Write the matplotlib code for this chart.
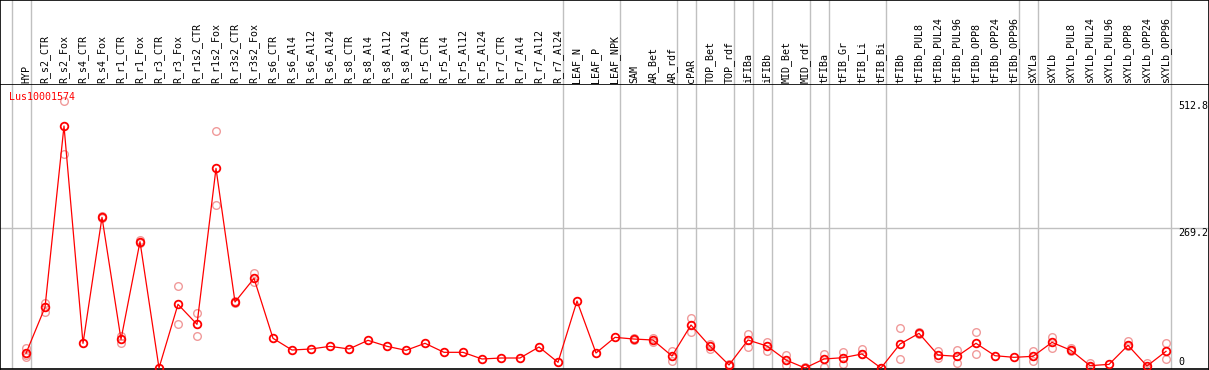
import numpy as np
import matplotlib
matplotlib.use("Agg")
import matplotlib.pyplot as plt
import matplotlib.transforms as mtransforms

gene = "Lus10001574"

samples = ["HYP", "R_s2_CTR", "R_s2_Fox", "R_s4_CTR", "R_s4_Fox", "R_r1_CTR",
           "R_r1_Fox", "R_r3_CTR", "R_r3_Fox", "R_r1s2_CTR", "R_r1s2_Fox",
           "R_r3s2_CTR", "R_r3s2_Fox", "R_s6_CTR", "R_s6_Al4", "R_s6_Al12",
           "R_s6_Al24", "R_s8_CTR", "R_s8_Al4", "R_s8_Al12", "R_s8_Al24",
           "R_r5_CTR", "R_r5_Al4", "R_r5_Al12", "R_r5_Al24", "R_r7_CTR",
           "R_r7_Al4", "R_r7_Al12", "R_r7_Al24", "LEAF_N", "LEAF_P", "LEAF_NPK",
           "SAM", "AR_Bet", "AR_rdf", "cPAR", "TOP_Bet", "TOP_rdf", "iFIBa",
           "iFIBb", "MID_Bet", "MID_rdf", "tFIBa", "tFIB_Gr", "tFIB_Li",
           "tFIB_Bi", "tFIBb", "tFIBb_PUL8", "tFIBb_PUL24", "tFIBb_PUL96",
           "tFIBb_OPP8", "tFIBb_OPP24", "tFIBb_OPP96", "sXYLa", "sXYLb",
           "sXYLb_PUL8", "sXYLb_PUL24", "sXYLb_PUL96", "sXYLb_OPP8",
           "sXYLb_OPP24", "sXYLb_OPP96"]

means = [28.2, 116.4, 464.3, 47.3, 289.1, 55.0, 242.4, 0, 122.2, 83.8, 383.0,
         126.6, 172.0, 57.0, 34.5, 36.5, 41.6, 36.5, 53.1, 41.6, 33.9, 47.4,
         30.1, 30.1, 17.3, 19.2, 19.2, 40.3, 10.9, 128.5, 28.8, 58.8, 55.6,
         53.7, 23.0, 82.5, 41.6, 5.8, 53.7, 42.2, 15.3, 0, 17.3, 19.8, 26.9, 0,
         46.0, 66.5, 24.9, 22.4, 47.4, 23.6, 20.5, 22.4, 49.2, 33.9, 4.5, 7.0,
         43.5, 3.8, 32.0]

replicates = [[37.8, 21.7, 25], [125.3, 108], [512.8, 410], [], [291, 287],
              [61.4, 48.6], [245, 240], [], [158, 83.8], [105, 62], [454, 312],
              [128.6, 123.8], [181.7, 164.4], [], [], [], [], [], [], [], [],
              [], [], [], [], [], [], [], [], [], [], [],
              [57.5, 53.5], [58.2, 49.2], [32.6, 12.8], [95.3, 68.5],
              [46, 35.8], [7.5, 3.5], [65.2, 40.9], [50.5, 32.6], [24.3, 5.8],
              [1, 0], [26.9, 2.6], [30.1, 7.0], [35.8, 26.9], [0, 0],
              [76, 17.3], [68.5, 64.5], [33.3, 18.6], [34.5, 10.2],
              [68.5, 26.3], [], [], [33.3, 14.0], [58.8, 37.8], [37.8, 32],
              [10.2, 1], [], [51.8, 42], [10.2, 0], [47.4, 17.8]]

# last sample of each group (a separator is drawn after it), -1 = left edge
group_ends = [-1, 0, 28, 31, 34, 35, 37, 38, 39, 41, 42, 45, 52, 53, 60]

ymax = 512.8
ymid = 269.2

W, H = 1209, 370
font = "DejaVu Sans Mono"

fig = plt.figure(figsize=(W / 100, H / 100), dpi=100)
xlim = (-26 / 19, (W - 26) / 19)

# header with sample names
hdr = fig.add_axes([0, 285 / H, 1, 85 / H])
hdr.set_xlim(*xlim)
hdr.set_ylim(0, 1)
hdr.set_xticks([])
hdr.set_yticks([])
for s in hdr.spines.values():
    s.set_linewidth(1.2)
    s.set_color("black")
trans = mtransforms.blended_transform_factory(hdr.transData, hdr.transAxes)
for i, name in enumerate(samples):
    hdr.text(i, 2 / 85, name, rotation=90, ha="center", va="bottom",
             fontsize=7.2, family=font, transform=trans)

# plot area
ax = fig.add_axes([0, 1 / H, 1, 284 / H])
ax.set_xlim(*xlim)
ax.set_ylim(-1.9, 543)
ax.set_xticks([])
ax.set_yticks([])
for s in ax.spines.values():
    s.set_linewidth(1.2)
    s.set_color("black")
ax.spines["top"].set_visible(False)

for g in group_ends:
    ax.axvline(g + 0.25, color="#c0c0c0", lw=1.0, zorder=0)
    hdr.axvline(g + 0.25, color="#c0c0c0", lw=1.0, zorder=0)
ax.axhline(ymid, color="#c0c0c0", lw=1.0, zorder=0)

x = np.arange(len(samples))
for i, reps in enumerate(replicates):
    if reps:
        ax.plot([i] * len(reps), reps, "o", ms=5.5, mfc="none", mec="#f09a9a",
                mew=1.0, zorder=2)
ax.plot(x, means, "-", color="red", lw=0.9, zorder=3)
ax.plot(x, means, "o", ms=5.5, mfc="none", mec="red", mew=1.3, zorder=4)

ax.text(9.3 / W, 1 - 7 / 284, gene, color="red", fontsize=7.2, family=font,
        ha="left", va="top", transform=ax.transAxes)

ylab_trans = mtransforms.blended_transform_factory(ax.transAxes, ax.transData)
ax.text(1178 / W, ymax, "512.8", fontsize=7.2, family=font, ha="left",
        va="top", transform=ylab_trans)
ax.text(1178 / W, ymid, "269.2", fontsize=7.2, family=font, ha="left",
        va="top", transform=ylab_trans)
ax.text(1178 / W, 2, "0", fontsize=7.2, family=font, ha="left",
        va="bottom", transform=ylab_trans)

fig.savefig("out.png", dpi=100)
